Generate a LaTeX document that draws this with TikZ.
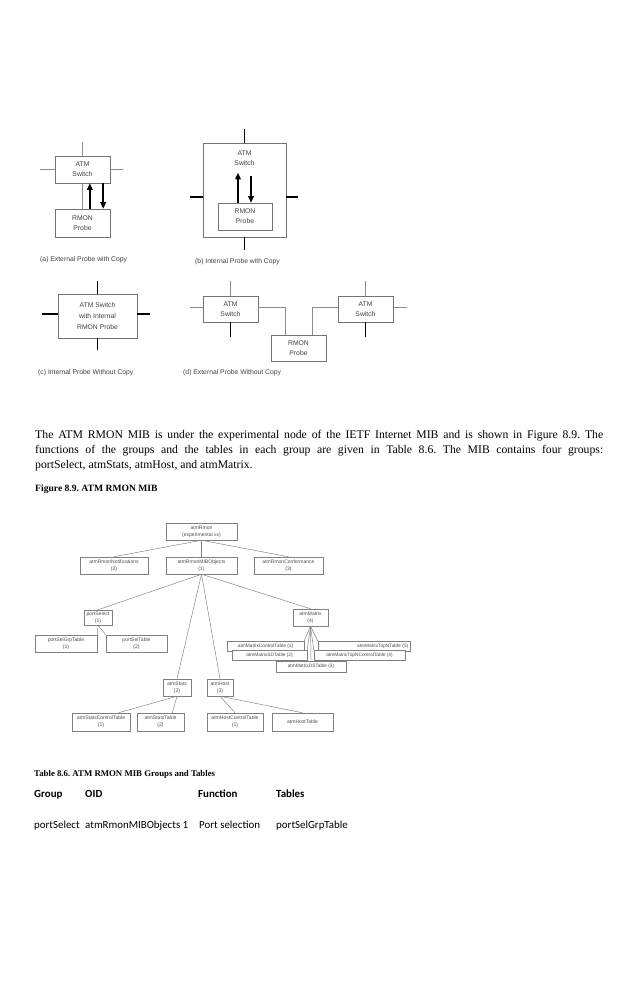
\documentclass[tikz,border=0pt]{standalone}
\usepackage{fontspec}
\setmainfont{Liberation Serif}
\newfontfamily\diagfont{Liberation Sans}
\newfontfamily\tabfont{Carlito}
\usetikzlibrary{arrows.meta, calc}
\frenchspacing

\begin{document}
\begin{tikzpicture}[x=0.3mm, y=-0.3mm,
    every node/.style={inner sep=0pt},
    probebox/.style={draw=black!55, fill=white, align=center, text=black!75,
                     font=\diagfont\fontsize{5.8}{8.5}\selectfont},
    boxtext/.style={align=center, text=black!75, font=\diagfont\fontsize{5.8}{8.5}\selectfont},
    caption/.style={anchor=west, text=black!75, font=\diagfont\fontsize{5.8}{7}\selectfont},
    mibbox/.style={draw=black!50, fill=white, align=center, text=black!70,
                   font=\diagfont\fontsize{4.3}{6}\selectfont, minimum height=5.1mm},
    tblbox/.style={draw=black!50, fill=white, align=center, text=black!70,
                   font=\diagfont\fontsize{4.1}{5}\selectfont, minimum height=3mm},
    port/.style={line width=1.3pt},
    wire/.style={draw=black!45, line width=0.5pt},
    link/.style={draw=black!50, line width=0.4pt},
    copyarr/.style={-{Triangle[length=2mm, width=1.7mm]}, line width=1.2pt},
    headtext/.style={anchor=base west, font=\tabfont\bfseries\fontsize{9.3}{11}\selectfont},
    rowtext/.style={anchor=base west, font=\tabfont\fontsize{9.3}{11}\selectfont}
]
    \useasboundingbox (0,0) rectangle (638,983);

    % (a) external probe with copy
    \node[probebox, minimum width=16.5mm, minimum height=8.1mm] (asw) at (82.5,169.5) {ATM\\Switch};
    \node[probebox, minimum width=16.5mm, minimum height=8.4mm] (apr) at (82.5,223) {RMON\\Probe};
    \draw[wire] (asw.north) -- ++(0,-14);
    \draw[wire] (asw.west) -- ++(-15,0);
    \draw[wire] (asw.east) -- ++(13,0);
    \draw[wire] (asw.south) -- (apr.north);
    \draw[copyarr] ([xshift=2.2mm]apr.north) -- ([xshift=2.2mm]asw.south);
    \draw[copyarr] ([xshift=6.2mm]asw.south) -- ([xshift=6.2mm]apr.north);
    \node[caption] (capa) at (40,260) {(a) External Probe with Copy};

    % (b) internal probe with copy
    \node[probebox, minimum width=24.9mm, minimum height=28.2mm] (bsw) at (244.5,190) {};
    \node[boxtext] (bsl) at (244.5,158) {ATM\\Switch};
    \node[probebox, minimum width=16.2mm, minimum height=8.1mm] (bpr) at (245,216.5) {RMON\\Probe};
    \draw[copyarr] ([xshift=-2.1mm]bpr.north) -- ++(0,-30);
    \draw[copyarr] ([xshift=1.8mm, yshift=8.1mm]bpr.north) -- ([xshift=1.8mm]bpr.north);
    \draw[port] (bsw.north) -- ++(0,-14);
    \draw[port] (bsw.south) -- ++(0,13);
    \draw[port] ([yshift=-2.1mm]bsw.west) -- ++(-13,0);
    \draw[port] ([yshift=-2.1mm]bsw.east) -- ++(12,0);
    \node[caption] (capb) at (195,262) {(b) Internal Probe with Copy};

    % (c) internal probe without copy
    \node[probebox, minimum width=23.7mm, minimum height=13.2mm,
          font=\diagfont\fontsize{5.8}{9.4}\selectfont] (csw) at (97.5,316)
          {ATM Switch\\with Internal\\RMON Probe};
    \draw[port] (csw.north) -- ++(0,-13);
    \draw[port] (csw.south) -- ++(0,12);
    \draw[port] ([yshift=0.6mm]csw.west) -- ++(-16,0);
    \draw[port] ([yshift=0.6mm]csw.east) -- ++(13,0);
    \node[caption] (capc) at (38,373) {(c) Internal Probe Without Copy};

    % (d) external probe without copy
    \node[probebox, minimum width=16.5mm, minimum height=7.8mm] (dsw1) at (230.5,309) {ATM\\Switch};
    \node[probebox, minimum width=16.5mm, minimum height=7.8mm] (dsw2) at (365.5,309) {ATM\\Switch};
    \node[probebox, minimum width=16.5mm, minimum height=7.8mm] (dpr) at (298.5,348) {RMON\\Probe};
    \draw[wire] (dsw1.north) -- ++(0,-15);
    \draw[wire] (dsw2.north) -- ++(0,-15);
    \draw[port] (dsw1.south) -- ++(0,15);
    \draw[port] (dsw2.south) -- ++(0,15);
    \draw[wire] ([yshift=0.6mm]dsw1.west) -- ++(-13,0);
    \draw[wire] ([yshift=0.6mm]dsw2.east) -- ++(14,0);
    \draw[wire] ([yshift=0.6mm]dsw1.east) -| ([xshift=4.5mm]dpr.north west);
    \draw[wire] ([yshift=0.6mm]dsw2.west) -| ([xshift=-4.2mm]dpr.north east);
    \node[caption] (capd) at (183,373) {(d) External Probe Without Copy};

    % running text
    \node[anchor=north west, text width=170.4mm, align=justify,
          font=\fontsize{10}{12.8}\selectfont] (para) at (35,430)
    {The ATM RMON MIB is under the experimental node of the IETF Internet MIB and is shown in Figure 8.9. The\linebreak
     functions of the groups and the tables in each group are given in Table 8.6. The MIB contains four groups:\linebreak
     portSelect, atmStats, atmHost, and atmMatrix.};
    \node[anchor=west, font=\bfseries\fontsize{8.2}{9}\selectfont] (figttl) at (35,489) {Figure 8.9. ATM RMON MIB};

    % MIB tree
    \node[mibbox, minimum width=21.3mm] (rt) at (201.5,531.5) {atmRmon\\(experimental xx)};
    \node[mibbox, minimum width=20.4mm] (ntf) at (114,565.5) {atmRmonNotifications\\(2)};
    \node[mibbox, minimum width=21.3mm] (mo) at (201.5,565.5) {atmRmonMIBObjects\\(1)};
    \node[mibbox, minimum width=20.7mm] (cf) at (288.5,565.5) {atmRmonConformance\\(3)};

    \node[mibbox, minimum width=8.4mm, minimum height=4.5mm] (ps) at (98,617.5) {portSelect\\(1)};
    \node[mibbox, minimum width=18.6mm] (psg) at (66,643.5) {portSelGrpTable\\(1)};
    \node[mibbox, minimum width=18.3mm] (pst) at (136.5,643.5) {portSelTable\\(2)};

    \node[mibbox, minimum width=10.5mm] (mx) at (310.5,617.5) {atmMatrix\\(4)};
    \node[tblbox, minimum width=23.1mm] (mct) at (265.5,646) {atmMatrixControlTable (1)};
    \node[tblbox, minimum width=22.5mm] (msd) at (269.5,655) {atmMatrixSDTable (2)};
    \node[tblbox, minimum width=21mm, minimum height=3.3mm] (mds) at (311,666.5) {atmMatrixDSTable (3)};
    \node[tblbox, minimum width=27.6mm, text width=26.6mm, align=right] (mtn) at (364,646) {atmMatrixTopNTable (5)};
    \node[tblbox, minimum width=27.3mm] (mtc) at (359.5,655) {atmMatrixTopNControlTable (4)};

    \node[mibbox, minimum width=8.4mm] (st) at (177,687.5) {atmStats\\(2)};
    \node[mibbox, minimum width=7.8mm] (hs) at (220,687.5) {atmHost\\(3)};
    \node[mibbox, minimum width=17.4mm, minimum height=5.4mm] (sct) at (101,722) {atmStatsControlTable\\(1)};
    \node[mibbox, minimum width=14.1mm, minimum height=5.4mm] (stb) at (160.5,722) {atmStatsTable\\(2)};
    \node[mibbox, minimum width=16.8mm, minimum height=5.4mm] (hct) at (235,722) {atmHostControlTable\\(1)};
    \node[mibbox, minimum width=18.3mm, minimum height=5.4mm] (htb) at (302.5,722) {atmHostTable};

    \draw[link] (rt.south) -- (ntf.north);
    \draw[link] (rt.south) -- (mo.north);
    \draw[link] (rt.south) -- (cf.north);
    \draw[link] (mo.south) -- (ps.north);
    \draw[link] (mo.south) -- (mx.north);
    \draw[link] (mo.south) -- (st.north);
    \draw[link] (mo.south) -- (hs.north);
    \draw[link] (ps.south) -- (psg.north east);
    \draw[link] (ps.south) -- (pst.north west);
    \draw[link] (mx.south) -- (mct.north east);
    \draw[link] (mx.south) -- (msd.north east);
    \draw[link] (mx.south) -- (mds.north);
    \draw[link] (mx.south) -- (mtc.north west);
    \draw[link] (mx.south) -- (mtn.north west);
    \draw[link] (st.south) -- ($(sct.north)!0.6!(sct.north east)$);
    \draw[link] (st.south) -- ($(stb.north)!0.5!(stb.north east)$);
    \draw[link] (hs.south) -- (hct.north);
    \draw[link] (hs.south) -- (htb.north);

    % table 8.6
    \node[anchor=west, font=\bfseries\fontsize{7.5}{9}\selectfont] (tblttl) at (34,774) {Table 8.6. ATM RMON MIB Groups and Tables};
    \node[headtext] (hgrp) at (34,797) {Group};
    \node[headtext] (hoid) at (85,797) {OID};
    \node[headtext] (hfun) at (198,797) {Function};
    \node[headtext] (htab) at (276,797) {Tables};
    \node[rowtext] (rgrp) at (34,828) {portSelect};
    \node[rowtext] (roid) at (85,828) {atmRmonMIBObjects 1};
    \node[rowtext] (rfun) at (199,828) {Port selection};
    \node[rowtext] (rtab) at (276,828) {portSelGrpTable};
\end{tikzpicture}
\end{document}
